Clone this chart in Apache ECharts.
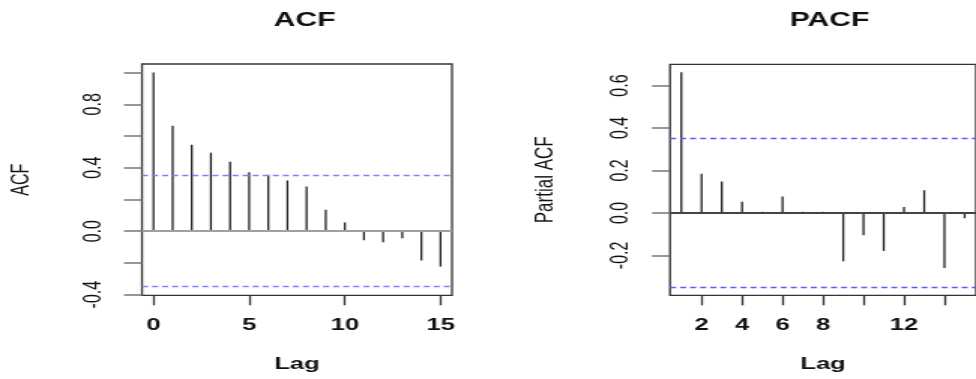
<!DOCTYPE html>
<html>
<head>
<meta charset="utf-8">
<script src="https://cdn.jsdelivr.net/npm/echarts@6/dist/echarts.min.js"></script>
<style>
html,body{margin:0;padding:0;background:#fff;overflow:hidden;}
#c{width:650px;height:379px;transform:scaleX(1.50154);transform-origin:0 0;}
</style>
</head>
<body>
<div id="c"></div>
<script>
// ---- data ----
const acfLags = [0,1,2,3,4,5,6,7,8,9,10,11,12,13,14,15];
const acfValues = [1.0,0.665,0.545,0.495,0.438,0.371,0.356,0.320,0.282,0.135,0.055,-0.057,-0.069,-0.044,-0.185,-0.223];
const pacfLags = [1,2,3,4,5,6,7,8,9,10,11,12,13,14,15];
const pacfValues = [0.663,0.184,0.148,0.053,0.005,0.077,0.006,0.006,-0.228,-0.105,-0.179,0.028,0.107,-0.259,-0.025];
const confLimit = 0.347;
const acfXTicks = [0,5,10,15];
const acfYTicks = [-0.4,-0.2,0,0.2,0.4,0.6,0.8,1.0];
const acfYLabels = [-0.4,0,0.4,0.8];
const pacfXTicks = [2,4,6,8,10,12,14];
const pacfXLabels = [2,4,6,8,12];
const pacfYTicks = [-0.2,0,0.2,0.4,0.6];
const pacfYLabels = [-0.2,0,0.2,0.4,0.6];
const titles = ['ACF','PACF'];
const xNames = ['Lag','Lag'];
const yNames = ['ACF','Partial ACF'];

// ---- layout helpers (screen px -> internal px) ----
const S = 976/650;
const sx = v => v / S;
const FONT = '"Liberation Sans", Arial, sans-serif';

function fmt(v){ return (Math.abs(v) < 1e-9 ? 0 : v).toFixed(1); }

function stickSeries(xi, yi, lags, vals){
  return {
    type: 'custom',
    xAxisIndex: xi, yAxisIndex: yi,
    data: lags.map((l,i)=>[l, vals[i]]),
    renderItem: function(params, api){
      const x = api.value(0), y = api.value(1);
      const p0 = api.coord([x, 0]);
      const p1 = api.coord([x, y]);
      return {type:'line', shape:{x1:p0[0],y1:p0[1],x2:p1[0],y2:p1[1]},
        style:{stroke:'#1a1a1a', lineWidth:1.25}};
    },
    clip: false,
    z: 3
  };
}
function refLines(xi, yi, zeroColor, dashColor){
  return {
    type: 'custom', xAxisIndex: xi, yAxisIndex: yi, data: [],
    renderItem: function(){ return null; },
    markLine: {
      silent: true, symbol: ['none','none'], label:{show:false},
      data: [
        {yAxis: 0, lineStyle:{color: zeroColor, width: 2, type:'solid'}},
        {yAxis: confLimit, lineStyle:{color: dashColor, width: 1.3, type:[4,2.7]}},
        {yAxis: -confLimit, lineStyle:{color: dashColor, width: 1.3, type:[4,2.7]}}
      ]
    },
    z: 2
  };
}

const xLabelStyle = {fontFamily: FONT, fontSize: 17, fontWeight: 'bold', color:'#111', lineHeight: 17, margin: 22, formatter: v => String(v)};
const yLabelStyle = {fontFamily: FONT, fontSize: 16, color:'#111', lineHeight: 16, rotate: 90, formatter: v => fmt(v)};
const xNameStyle = {fontFamily: FONT, fontSize: 17, fontWeight: 'bold', color:'#111', lineHeight: 17};

const option = {
  animation: false,
  backgroundColor: '#fff',
  title: [
    {text: titles[0], left: sx(297), top: 5, textAlign:'center',
      textStyle:{fontFamily: FONT, fontSize: 20, fontWeight:'bold', color:'#111'}},
    {text: titles[1], left: sx(822), top: 5, textAlign:'center',
      textStyle:{fontFamily: FONT, fontSize: 20, fontWeight:'bold', color:'#111'}}
  ],
  grid: [
    {left: sx(142), top: 64, width: sx(310), height: 231.3, show: true, borderColor:'#333', borderWidth: 1.3, backgroundColor:'transparent'},
    {left: sx(670), top: 64.3, width: sx(309), height: 231, show: true, borderColor:'#333', borderWidth: 1.3, backgroundColor:'transparent'}
  ],
  xAxis: [
    {type:'value', gridIndex:0, min:-0.6, max:15.6, splitLine:{show:false},
      axisLine:{show:false, onZero:false},
      axisTick:{show:true, length:10, lineStyle:{color:'#333', width:1.3}, customValues: acfXTicks},
      axisLabel: Object.assign({customValues: acfXTicks}, xLabelStyle),
      name: xNames[0], nameLocation:'middle', nameGap: 61, nameTextStyle: xNameStyle},
    {type:'value', gridIndex:1, min:0.44, max:15.56, splitLine:{show:false},
      axisLine:{show:false, onZero:false},
      axisTick:{show:true, length:10, lineStyle:{color:'#333', width:1.3}, customValues: pacfXTicks},
      axisLabel: Object.assign({customValues: pacfXLabels}, xLabelStyle),
      name: xNames[1], nameLocation:'middle', nameGap: 61, nameTextStyle: xNameStyle}
  ],
  yAxis: [
    {type:'value', gridIndex:0, min:-0.404, max:1.054, splitLine:{show:false},
      axisLine:{show:false, onZero:false},
      axisTick:{show:true, length: sx(18), lineStyle:{color:'#777', width:1.5}, customValues: acfYTicks},
      axisLabel: Object.assign({customValues: acfYLabels, margin: 24}, yLabelStyle),
      name: yNames[0], nameLocation:'middle', nameGap: 72, nameRotate: 90,
      nameTextStyle:{fontFamily: FONT, fontSize: 16, color:'#111', lineHeight: 16}},
    {type:'value', gridIndex:1, min:-0.388, max:0.70, splitLine:{show:false},
      axisLine:{show:false, onZero:false},
      axisTick:{show:true, length: sx(18), lineStyle:{color:'#777', width:1.5}, customValues: pacfYTicks},
      axisLabel: Object.assign({customValues: pacfYLabels, margin: 25}, yLabelStyle),
      name: yNames[1], nameLocation:'middle', nameGap: 74, nameRotate: 90,
      nameTextStyle:{fontFamily: FONT, fontSize: 17, color:'#111', lineHeight: 17}}
  ],
  series: [
    refLines(0, 0, '#a0a0a0', '#7f7fff'),
    stickSeries(0, 0, acfLags, acfValues),
    refLines(1, 1, '#444', '#5a5aff'),
    stickSeries(1, 1, pacfLags, pacfValues)
  ]
};

const chart = echarts.init(document.getElementById('c'), null, {renderer:'canvas'});
chart.setOption(option);
</script>
</body>
</html>
